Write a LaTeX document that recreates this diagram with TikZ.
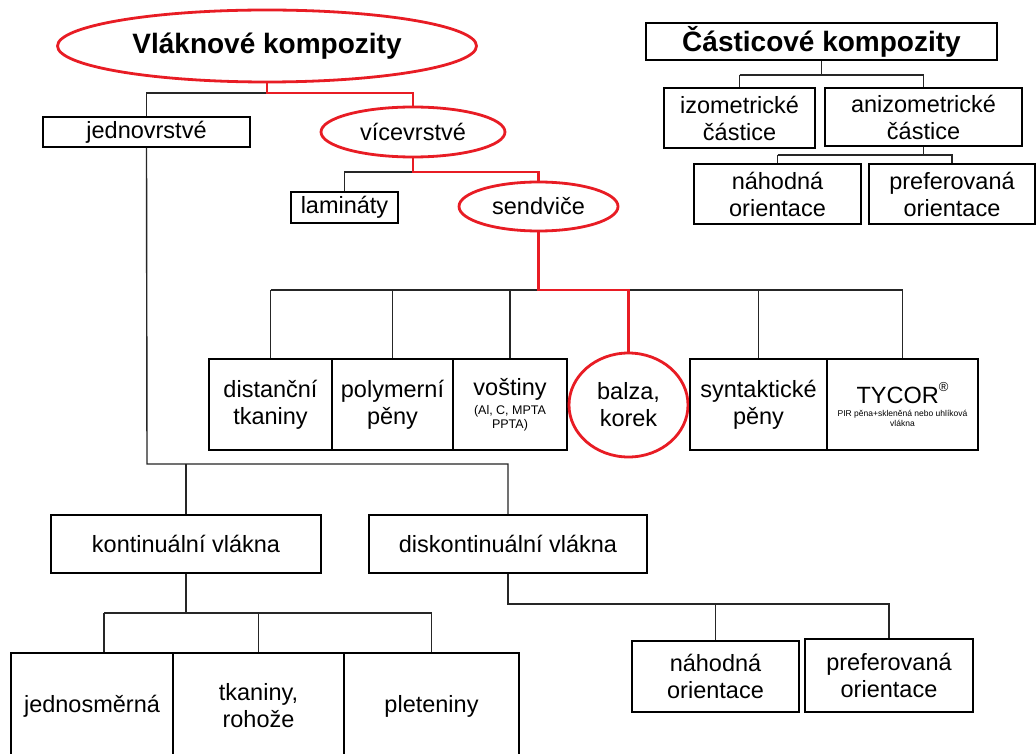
\documentclass[tikz,border=0pt]{standalone}
\usepackage{fontspec}
\setmainfont{Liberation Sans}
\usetikzlibrary{shapes.geometric,calc}
\definecolor{hred}{RGB}{232,28,36}
\tikzset{
  box/.style={draw=black, line width=1.8pt, inner sep=0pt, align=center, font=\fontsize{23.5}{27}\selectfont},
  redell/.style={ellipse, draw=hred, line width=2.8pt, inner sep=0pt, align=center, font=\fontsize{23.5}{27}\selectfont},
  conn/.style={draw=black!85, line width=1.4pt},
  redline/.style={draw=hred, line width=2.8pt},
  titlefont/.style={font=\fontsize{28}{32}\selectfont\bfseries}
}
\newcommand{\smalltxt}{\fontsize{12.5}{14}\selectfont}
\newcommand{\tinytxt}{\fontsize{8.5}{10}\selectfont}
\begin{document}
\begin{tikzpicture}[x=1pt,y=-1pt]
\useasboundingbox (0,0) rectangle (1036,754);
\fill[white] (0,0) rectangle (1036,754);

% ---- nodes ----
\node[redell, titlefont, minimum width=419pt, minimum height=72pt] (vk) at (267,46) {Vláknové kompozity};
\node[box, minimum width=207pt, minimum height=30pt] (jedn) at (146.5,132) {jednovrstvé};
\node[redell, minimum width=184pt, minimum height=50pt] (vice) at (413,132) {vícevrstvé};
\node[box, minimum width=107pt, minimum height=31pt] (lam) at (344.5,207.5) {lamináty};
\node[redell, minimum width=159pt, minimum height=49pt] (send) at (538.5,206.5) {sendviče};

\node[box, minimum width=123pt, minimum height=91pt] (dist) at (270.5,404.5) {distanční\\tkaniny};
\node[box, minimum width=121pt, minimum height=91pt] (poly) at (392.5,404.5) {polymerní\\pěny};
\node[box, minimum width=114pt, minimum height=91pt] (vost) at (510,404.5) {voštiny\\[-8pt]\smalltxt (Al, C, MPTA\\[-13pt]\smalltxt PPTA)};
\node[redell, minimum width=119pt, minimum height=104pt] (balza) at (628.5,405) {balza,\\korek};
\node[box, minimum width=137pt, minimum height=91pt] (synt) at (758.5,404.5) {syntaktické\\pěny};
\node[box, minimum width=151pt, minimum height=91pt] (tycor) at (902.5,404.5) {TYCOR\raisebox{0.55em}{\fontsize{13}{13}\selectfont ®}\\[-14pt]\tinytxt PIR pěna+skleněná nebo uhlíková\\[-17pt]\tinytxt vlákna};

\node[box, minimum width=270pt, minimum height=58pt] (kont) at (186,544) {kontinuální vlákna};
\node[box, minimum width=278pt, minimum height=58pt] (disk) at (508,544) {diskontinuální vlákna};

\node[box, minimum width=162pt, minimum height=106pt] (jsm) at (92,706) {jednosměrná};
\node[box, minimum width=171pt, minimum height=106pt] (tkan) at (258.5,706) {tkaniny,\\rohože};
\node[box, minimum width=175pt, minimum height=106pt] (plet) at (431.5,706) {pleteniny};

\node[box, minimum width=167pt, minimum height=71pt] (nah2) at (715.5,676.5) {náhodná\\orientace};
\node[box, minimum width=168pt, minimum height=73pt] (pref2) at (889,675.5) {preferovaná\\orientace};

\node[box, titlefont, minimum width=351pt, minimum height=37pt] (cast) at (821.5,41.5) {Částicové kompozity};
\node[box, minimum width=151pt, minimum height=60pt] (izo) at (739.5,118) {izometrické\\částice};
\node[box, minimum width=197pt, minimum height=58pt] (aniz) at (923.5,117) {anizometrické\\částice};
\node[box, minimum width=167pt, minimum height=60pt] (nah1) at (777.5,194) {náhodná\\orientace};
\node[box, minimum width=166pt, minimum height=60pt] (pref1) at (952,194) {preferovaná\\orientace};

% ---- bus coordinates ----
\coordinate (b1) at (267,93);
\coordinate (b2) at (413,172);
\coordinate (b3) at (538.5,290);
\coordinate (b4) at (147,464);
\coordinate (b5) at (186,613);
\coordinate (d1) at (104,613);
\coordinate (b6) at (508,604);
\coordinate (b7) at (821.5,75);
\coordinate (b8) at (923.5,155);

% ---- black connectors ----
\draw[conn] (b1) -| (jedn.north);
\draw[conn] (b2) -| (lam.north);
\draw[conn] (dist.north |- b3) -- (tycor.north |- b3);
\draw[conn] (dist.north |- b3) -- (dist.north);
\draw[conn] (poly.north |- b3) -- (poly.north);
\draw[conn] (vost.north |- b3) -- (vost.north);
\draw[conn] (synt.north |- b3) -- (synt.north);
\draw[conn] (tycor.north |- b3) -- (tycor.north);

\draw[conn] (jedn.south) -- (b4) -| (disk.north);
\draw[conn] (kont.north |- b4) -- (kont.north);

\draw[conn] (kont.south) -- (b5);
\draw[conn] (d1) -- (plet.north |- b5);
\draw[conn] (d1) -- (d1 |- jsm.north);
\draw[conn] (tkan.north |- b5) -- (tkan.north);
\draw[conn] (plet.north |- b5) -- (plet.north);

\draw[conn] (disk.south) -- (b6) -| (pref2.north);
\draw[conn] (nah2.north |- b6) -- (nah2.north);

\draw[conn] (cast.south) -- (b7);
\draw[conn] (izo.north |- b7) -| (aniz.north);
\draw[conn] (izo.north |- b7) -- (izo.north);

\draw[conn] (aniz.south) -- (b8);
\draw[conn] (nah1.north |- b8) -| (pref1.north);
\draw[conn] (nah1.north |- b8) -- (nah1.north);

% ---- red path ----
\draw[redline] (vk.south) -- (b1) -| (vice.north);
\draw[redline] (vice.south) -- (b2) -| (send.north);
\draw[redline] (send.south) -- (b3) -| (balza.north);
\end{tikzpicture}
\end{document}
